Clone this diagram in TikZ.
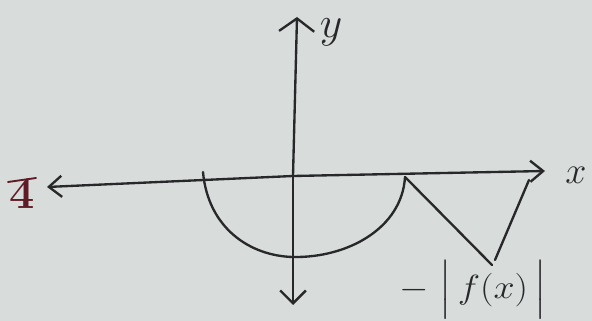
\documentclass[tikz,border=0pt]{standalone}
\usepackage{amsmath, amssymb}
\usepackage{tikz}
\usetikzlibrary{arrows.meta}

\definecolor{carta}{RGB}{216,220,219}
\definecolor{penna}{RGB}{40,40,42}
\definecolor{bordeaux}{RGB}{95,28,38}

\tikzset{
    tratto/.style={penna, line width=2pt, line cap=round, line join=round},
    punta/.style={-{Straight Barb[length=11pt,width=#1,line width=2pt]}},
}

\begin{document}
\begin{tikzpicture}[x=0.03cm, y=-0.03cm]
    % foglio
    \fill[carta] (0,0) rectangle (592,321);
    \useasboundingbox (0,0) rectangle (592,321);

    % assi
    \coordinate (O) at (293,176);
    \draw[tratto, punta=18pt] (O) -- (545,171);
    \draw[tratto, punta=18pt] (O) -- (47,187);
    \draw[tratto, punta=30pt] (O) -- (297,17);
    \draw[tratto, punta=22pt] (O) -- (293,305);
    \node[penna, font=\fontsize{24}{26}\selectfont] (X) at (576,175) {\scalebox{1.3}{$x$}};
    \node[penna, inner sep=0pt, font=\fontsize{24}{26}\selectfont] (Y) at (331,32) {\scalebox{1.5}{$y$}};

    % segno a sinistra
    \node[bordeaux, font=\bfseries\fontsize{24}{26}\selectfont] (Q) at (22,194) {\scalebox{1.6}{4}};
    \draw[bordeaux, line width=1.6pt, line cap=round] (8,182) -- (36,178);

    % semicerchio
    \coordinate (A) at (203,172);
    \coordinate (B) at (293,257);
    \coordinate (C) at (405,177);
    \draw[tratto] (A) .. controls (208,228) and (250,256) .. (B)
                      .. controls (348,258) and (402,228) .. (C);

    % spezzata
    \coordinate (D) at (492,265);
    \coordinate (E) at (495,260);
    \coordinate (F) at (529,180);
    \draw[tratto] (C) -- (D);
    \draw[tratto] (E) -- (F);

    % etichetta
    \node[penna, font=\fontsize{24}{28}\selectfont] (L) at (473,290)
        {\scalebox{1.3}[1.15]{$-\;\Big|\,f(x)\,\Big|$}};
\end{tikzpicture}
\end{document}
